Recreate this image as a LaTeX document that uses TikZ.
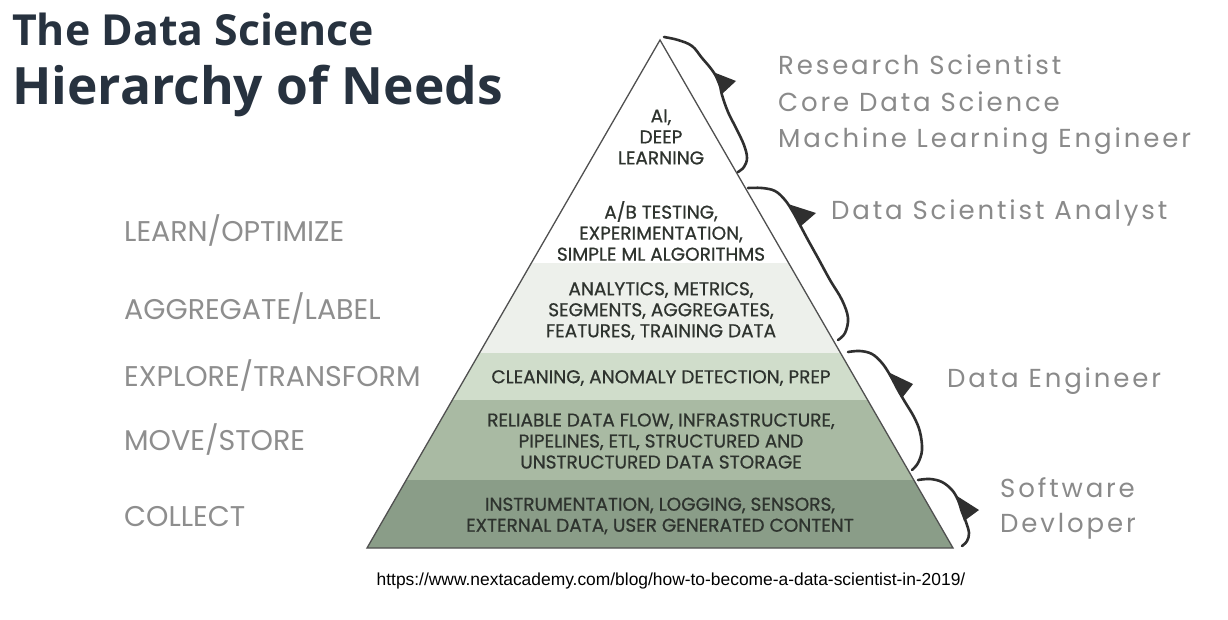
\documentclass[tikz,border=0pt]{standalone}
\usepackage{fontspec}
\setmainfont{Liberation Sans}
\newfontfamily\titlefont{Open Sans}
\newfontfamily\lblfont{Poppins}
\newfontfamily\pyrfont{Poppins}[FakeBold=0.7]
\newfontfamily\rolefont{Poppins}[LetterSpace=11]
\newfontfamily\urlfont{Liberation Sans}
\definecolor{titlec}{HTML}{27323F}
\definecolor{lblc}{HTML}{8E8E8E}
\definecolor{rolec}{HTML}{8A8A8A}
\definecolor{pyrtext}{HTML}{2E332E}
\definecolor{bandA}{HTML}{EDF0EB}
\definecolor{bandB}{HTML}{D0DDCB}
\definecolor{bandC}{HTML}{A9BAA3}
\definecolor{bandD}{HTML}{8A9D88}
\definecolor{outlinec}{HTML}{505050}
\definecolor{bracec}{HTML}{2F2F2F}
\begin{document}
\begin{tikzpicture}[x=1pt,y=-1pt,
  titlestyle/.style={inner sep=0pt,anchor=base west,text=titlec,font=\titlefont\bfseries},
  lvl/.style={inner sep=0pt,anchor=base west,text=lblc,font=\lblfont\fontsize{28.5}{32}\selectfont},
  role/.style={inner sep=0pt,anchor=base west,text=rolec,font=\rolefont\fontsize{26}{30}\selectfont},
  layertext/.style={inner sep=0pt,align=center,text=pyrtext,font=\pyrfont\fontsize{18.5}{21}\selectfont},
  bracestyle/.style={draw=bracec,line width=2.6pt,line cap=round,line join=round},
  notch/.style={fill=bracec}]
\fill[white] (0,0) rectangle (1228,619);
\useasboundingbox (0,0) rectangle (1228,619);
% pyramid
\coordinate (A) at (660,40);
\coordinate (L) at (367,548);
\coordinate (R) at (953,548);
\begin{scope}
\clip (A)--(L)--(R)--cycle;
\fill[bandA] (300,263) rectangle (1000,353);
\fill[bandB] (300,353) rectangle (1000,400);
\fill[bandC] (300,400) rectangle (1000,480);
\fill[bandD] (300,480) rectangle (1000,550);
\end{scope}
\draw[outlinec,line width=1.3pt,line join=miter] (A)--(L)--(R)--cycle;
% title
\node[titlestyle,font=\titlefont\bfseries\fontsize{42.8}{50}\selectfont] (t1) at (12,45) {The Data Science};
\node[titlestyle,font=\titlefont\bfseries\fontsize{51.5}{58}\selectfont] (t2) at (12,104) {Hierarchy of Needs};
% left labels
\node[lvl] (l1) at (124,241) {LEARN/OPTIMIZE};
\node[lvl] (l2) at (124,319) {AGGREGATE/LABEL};
\node[lvl] (l3) at (124,386) {EXPLORE/TRANSFORM};
\node[lvl] (l4) at (124,450) {MOVE/STORE};
\node[lvl] (l5) at (124,526) {COLLECT};
% layer texts
\node[layertext] (p1) at (661,137) {AI,\\DEEP\\LEARNING};
\node[layertext] (p2) at (661,231) {A/B TESTING,\\EXPERIMENTATION,\\SIMPLE ML ALGORITHMS};
\node[layertext] (p3) at (661,311) {ANALYTICS, METRICS,\\SEGMENTS, AGGREGATES,\\FEATURES, TRAINING DATA};
\node[layertext] (p4) at (661,378) {CLEANING, ANOMALY DETECTION, PREP};
\node[layertext] (p5) at (661,441) {RELIABLE DATA FLOW, INFRASTRUCTURE,\\PIPELINES, ETL, STRUCTURED AND\\UNSTRUCTURED DATA STORAGE};
\node[layertext] (p6) at (660,516) {INSTRUMENTATION, LOGGING, SENSORS,\\EXTERNAL DATA, USER GENERATED CONTENT};
% role labels
\node[role] (r1) at (778,74) {Research Scientist};
\node[role] (r2) at (778,111) {Core Data Science};
\node[role] (r3) at (778,147) {Machine Learning Engineer};
\node[role] (r4) at (831,219) {Data Scientist Analyst};
\node[role] (r5) at (947,387) {Data Engineer};
\node[role] (r6) at (1000,497) {Software};
\node[role] (r7) at (1000,532) {Devloper};
% braces
\draw[bracestyle] plot[smooth,tension=0.6] coordinates {(664,37) (678,40) (692,46) (702,58) (712,70) (719,82) (722,95) (728,112) (736,128) (744,145) (747,158) (744,167) (738,172)};
\fill[notch] (713,72) -- (736,81) -- (722,94) -- cycle;
\draw[bracestyle] plot[smooth,tension=0.6] coordinates {(748,188) (762,188) (775,191) (785,200) (793,212) (800,225) (808,240) (818,258) (830,280) (842,300) (848,318) (845,333) (838,340)};
\fill[notch] (788,204) -- (816,213) -- (801,226) -- cycle;
\draw[bracestyle] plot[smooth,tension=0.6] coordinates {(848,352) (860,351) (872,354) (882,363) (890,375) (898,390) (905,402) (914,417) (920,432) (922,450) (918,463) (912,470)};
\fill[notch] (890,373) -- (913,384) -- (902,398) -- cycle;
\draw[bracestyle] plot[smooth,tension=0.6] coordinates {(918,480) (930,479) (942,482) (952,490) (958,500) (962,512) (966,522) (969,533) (967,541) (962,546)};
\fill[notch] (957,496) -- (979,510) -- (964,521) -- cycle;
% url
\node[inner sep=0pt,anchor=base,font=\urlfont\fontsize{17.4}{20}\selectfont] (url) at (671,585) {https://www.nextacademy.com/blog/how-to-become-a-data-scientist-in-2019/};
\end{tikzpicture}
\end{document}
